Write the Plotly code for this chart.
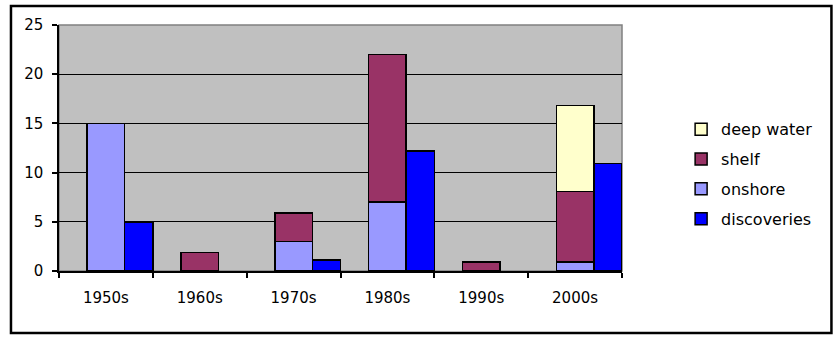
import plotly.graph_objects as go

decades = ["1950s", "1960s", "1970s", "1980s", "1990s", "2000s"]
onshore = [15, None, 3, 7, None, 0.9]
shelf = [None, 1.9, 2.9, 15, 0.9, 7.2]
deep_water = [None, None, None, None, None, 8.7]
discoveries = [5, None, 1.1, 12.2, None, 10.9]
y_ticks = [0, 5, 10, 15, 20, 25]

FONT = "DejaVu Sans, Arial, sans-serif"
line = dict(color="black", width=1.5)

fig = go.Figure()
stack_common = dict(x=decades, offset=-0.2, width=0.4, xaxis="x", yaxis="y")
fig.add_trace(go.Bar(name="onshore", y=onshore, marker=dict(color="#9999FF", line=line),
                     legendrank=3, legendgroup="c", **stack_common))
fig.add_trace(go.Bar(name="shelf", y=shelf, marker=dict(color="#993366", line=line),
                     legendrank=2, legendgroup="b", **stack_common))
fig.add_trace(go.Bar(name="deep water", y=deep_water, marker=dict(color="#FFFFCC", line=line),
                     legendrank=1, legendgroup="a", **stack_common))
fig.add_trace(go.Bar(name="discoveries", x=decades, y=discoveries, offset=0.2, width=0.3,
                     marker=dict(color="#0000FF", line=line), legendrank=4, legendgroup="d",
                     xaxis="x2", yaxis="y"))

fig.update_layout(
    width=839, height=339,
    margin=dict(l=59, r=217, t=25, b=68),
    barmode="stack",
    paper_bgcolor="white",
    plot_bgcolor="#C0C0C0",
    font=dict(family=FONT, size=15, color="black"),
    showlegend=True,
    legend=dict(x=1.105, y=0.645, xanchor="left", yanchor="top", traceorder="grouped",
                tracegroupgap=6, font=dict(size=16, family=FONT, color="black"),
                bgcolor="rgba(0,0,0,0)"),
    xaxis=dict(type="category", range=[-0.5, 5.5], showgrid=False, showline=True,
               linecolor="black", linewidth=1.5, ticks="outside", ticklen=5,
               tickcolor="black", tickwidth=1.5, tickson="boundaries",
               ticklabelstandoff=12, zeroline=False),
    xaxis2=dict(type="category", range=[-0.5, 5.5], overlaying="x", matches="x",
                visible=False),
    yaxis=dict(range=[0, 25], tickvals=y_ticks, showgrid=True, gridcolor="black",
               gridwidth=1.3, showline=True, linecolor="black", linewidth=1.5,
               ticks="outside", ticklen=5, tickcolor="black", tickwidth=1.5,
               ticklabelstandoff=6, zeroline=False),
    shapes=[
        dict(type="rect", xref="x domain", yref="y domain", x0=0, x1=1, y0=0, y1=1,
             line=dict(color="#808080", width=1.5), layer="below"),
        dict(type="rect", xref="paper", yref="paper", x0=-0.0853, x1=1.372,
             y0=-0.252, y1=1.077, line=dict(color="black", width=2.5)),
    ],
)

fig.write_html("out.html")
